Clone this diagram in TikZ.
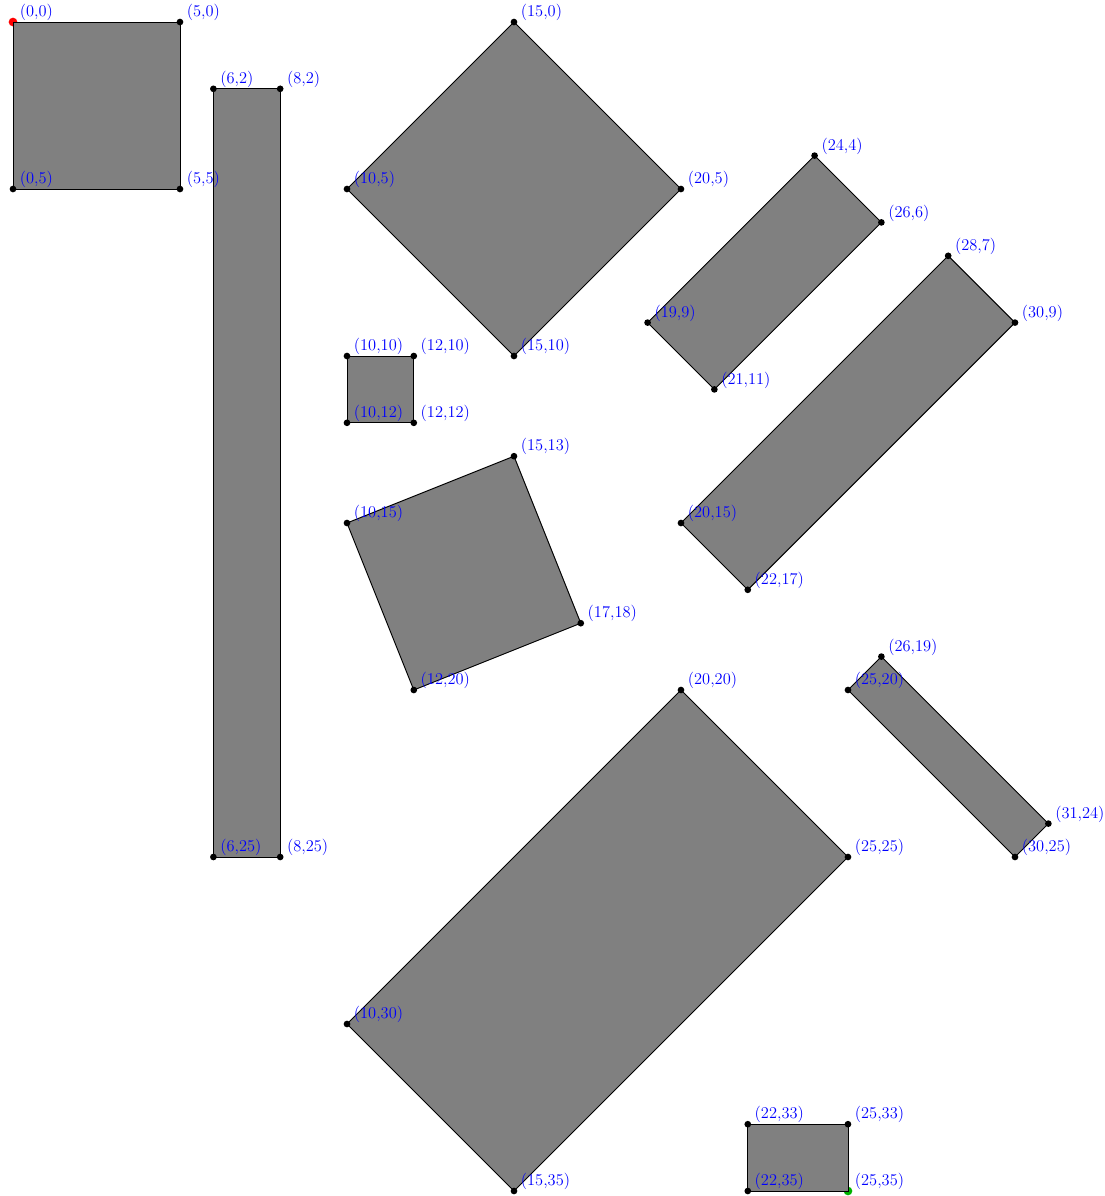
\documentclass[tikz,border=0pt]{standalone}
\usepackage{tikz}
\usetikzlibrary{positioning}

\tikzset{
  box/.style={fill=gray, draw=black, line width=0.8pt, line join=miter},
  pt/.style={circle, fill=black, inner sep=0pt, minimum size=2mm},
  endpt/.style={circle, inner sep=0pt, minimum size=2.6mm},
  lbl/.style={text=blue, font=\fontsize{14}{14}\selectfont, inner sep=0pt, anchor=base west}
}

\begin{document}
\begin{tikzpicture}[yscale=-1]
  \useasboundingbox (-0.389,-0.659) rectangle (32.695,35.15);

  % corner points
  \foreach \x/\y in {0/0,5/0,5/5,0/5, 6/2,8/2,8/25,6/25, 15/0,20/5,15/10,10/5,
                     10/10,12/10,12/12,10/12, 15/13,17/18,12/20,10/15,
                     24/4,26/6,21/11,19/9, 28/7,30/9,22/17,20/15,
                     20/20,25/25,15/35,10/30, 26/19,31/24,30/25,25/20,
                     22/33,25/33,25/35,22/35}
    \coordinate (p\x-\y) at (\x,\y);

  % start and end marks, under the boxes
  \node[endpt, fill=red] (start) at (p0-0) {};
  \node[endpt, fill=green!70!black] (end) at (p25-35) {};

  % boxes
  \draw[box] (p0-0) -- (p5-0) -- (p5-5) -- (p0-5) -- cycle;
  \draw[box] (p6-2) -- (p8-2) -- (p8-25) -- (p6-25) -- cycle;
  \draw[box] (p15-0) -- (p20-5) -- (p15-10) -- (p10-5) -- cycle;
  \draw[box] (p10-10) -- (p12-10) -- (p12-12) -- (p10-12) -- cycle;
  \draw[box] (p15-13) -- (p17-18) -- (p12-20) -- (p10-15) -- cycle;
  \draw[box] (p24-4) -- (p26-6) -- (p21-11) -- (p19-9) -- cycle;
  \draw[box] (p28-7) -- (p30-9) -- (p22-17) -- (p20-15) -- cycle;
  \draw[box] (p20-20) -- (p25-25) -- (p15-35) -- (p10-30) -- cycle;
  \draw[box] (p26-19) -- (p31-24) -- (p30-25) -- (p25-20) -- cycle;
  \draw[box] (p22-33) -- (p25-33) -- (p25-35) -- (p22-35) -- cycle;

  % dots
  \foreach \x/\y in {5/0,5/5,0/5, 6/2,8/2,8/25,6/25, 15/0,20/5,15/10,10/5,
                     10/10,12/10,12/12,10/12, 15/13,17/18,12/20,10/15,
                     24/4,26/6,21/11,19/9, 28/7,30/9,22/17,20/15,
                     20/20,25/25,15/35,10/30, 26/19,31/24,30/25,25/20,
                     22/33,25/33,22/35}
    \node[pt] (d\x-\y) at (p\x-\y) {};

  % labels
  \foreach \x/\y in {0/0,5/0,5/5,0/5, 6/2,8/2,8/25,6/25, 15/0,20/5,15/10,10/5,
                     10/10,12/10,12/12,10/12, 15/13,17/18,12/20,10/15,
                     24/4,26/6,21/11,19/9, 28/7,30/9,22/17,20/15,
                     20/20,25/25,15/35,10/30, 26/19,31/24,30/25,25/20,
                     22/33,25/33,25/35,22/35}
    \node[lbl] (l\x-\y) at ([xshift=0.2cm, yshift=-0.16cm]p\x-\y) {(\x,\y)};
\end{tikzpicture}
\end{document}
